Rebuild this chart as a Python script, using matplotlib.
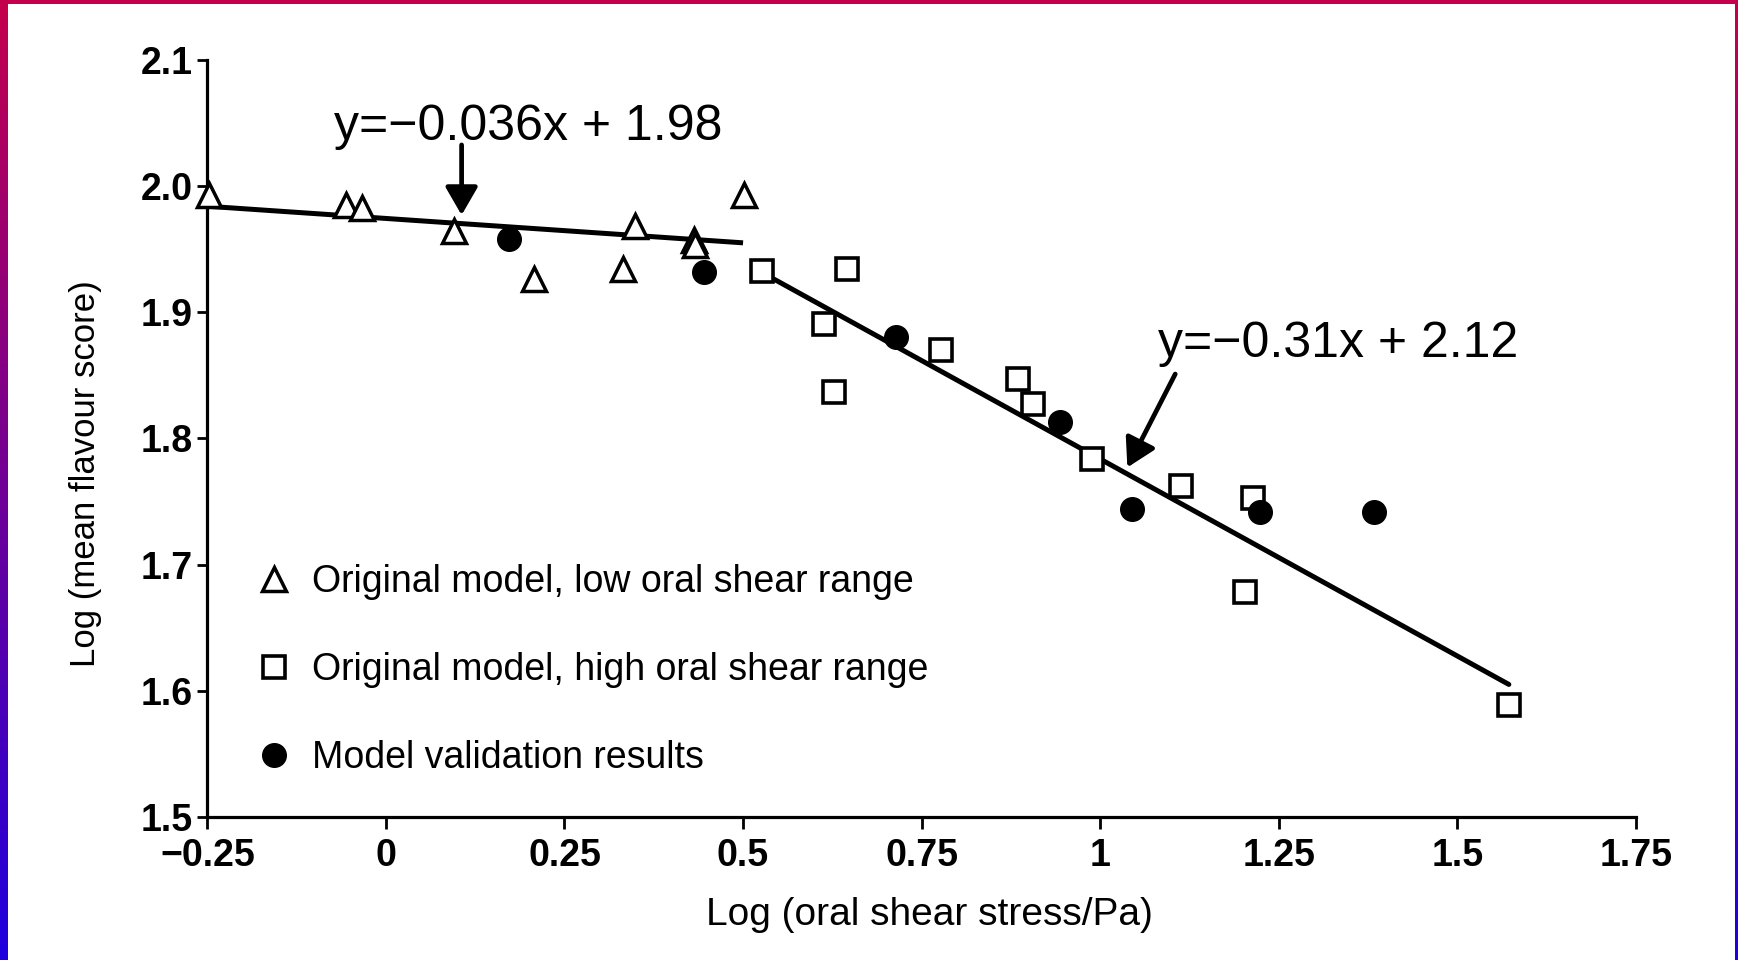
import numpy as np
import matplotlib
matplotlib.use("Agg")
import matplotlib.pyplot as plt

plt.rcParams['font.family'] = ['Liberation Sans', 'DejaVu Sans']

# ---- data ----
tri_x = [-0.247, -0.056, -0.033, 0.096, 0.208, 0.332, 0.349, 0.431, 0.433, 0.501]
tri_y = [1.993, 1.985, 1.983, 1.964, 1.926, 1.934, 1.968, 1.957, 1.953, 1.993]

sq_x = [0.527, 0.614, 0.628, 0.646, 0.777, 0.885, 0.906, 0.988, 1.113, 1.203, 1.214, 1.572]
sq_y = [1.933, 1.891, 1.837, 1.934, 1.870, 1.847, 1.827, 1.784, 1.762, 1.678, 1.753, 1.589]

val_x = [0.172, 0.445, 0.714, 0.944, 1.044, 1.223, 1.383]
val_y = [1.958, 1.932, 1.880, 1.813, 1.744, 1.742, 1.742]

low_fit_x = [-0.25, 0.50]
low_fit_y = [1.984, 1.955]
high_fit_x = [0.528, 1.572]
high_fit_y = [1.931, 1.605]

labels = ["Original model, low oral shear range",
          "Original model, high oral shear range",
          "Model validation results"]
eq_low = "y=\u22120.036x + 1.98"
eq_high = "y=\u22120.31x + 2.12"

xticks = [-0.25, 0, 0.25, 0.5, 0.75, 1, 1.25, 1.5, 1.75]
xticklabels = ["\u22120.25", "0", "0.25", "0.5", "0.75", "1", "1.25", "1.5", "1.75"]
yticks = [1.5, 1.6, 1.7, 1.8, 1.9, 2.0, 2.1]
yticklabels = ["1.5", "1.6", "1.7", "1.8", "1.9", "2.0", "2.1"]

# ---- figure ----
W, H = 1738, 960
fig = plt.figure(figsize=(W / 100, H / 100), dpi=100, facecolor='white')

# gradient frame (left, right, top)
top_col = np.array([196, 0, 76]) / 255.0
bot_col = np.array([30, 0, 222]) / 255.0
t = np.linspace(0, 1, 256)[:, None]
grad = (top_col[None, :] * (1 - t) + bot_col[None, :] * t)[:, None, :]
for (x0, w) in [(0, 7), (W - 3, 3)]:
    sa = fig.add_axes([x0 / W, 0, w / W, 1])
    sa.imshow(grad, aspect='auto', extent=[0, 1, 0, 1], origin='upper')
    sa.set_axis_off()
ta = fig.add_axes([0, 1 - 4 / H, 1, 4 / H])
ta.set_facecolor(top_col)
ta.set_xticks([]); ta.set_yticks([])
for s in ta.spines.values():
    s.set_visible(False)

ax_l, ax_r = 207.3, 1636.0
ax_t, ax_b = 59.9, 816.9
ax = fig.add_axes([ax_l / W, 1 - ax_b / H, (ax_r - ax_l) / W, (ax_b - ax_t) / H])
ax.set_facecolor('none')

ax.set_xlim(-0.25, 1.75)
ax.set_ylim(1.5, 2.1)
for side in ['top', 'right']:
    ax.spines[side].set_visible(False)
for side in ['left', 'bottom']:
    ax.spines[side].set_linewidth(2.3)
    ax.spines[side].set_color('black')

ax.set_xticks(xticks)
ax.set_xticklabels(xticklabels)
ax.set_yticks(yticks)
ax.set_yticklabels(yticklabels)
ax.tick_params(axis='x', direction='out', length=8.5, width=2.0, pad=7,
               labelsize=27)
ax.tick_params(axis='y', direction='out', length=7, width=2.0, pad=3.5,
               labelsize=27)
for lab in ax.get_xticklabels() + ax.get_yticklabels():
    lab.set_fontweight('bold')

# fit lines
ax.plot(low_fit_x, low_fit_y, color='black', lw=3.6, solid_capstyle='butt', zorder=2)
ax.plot(high_fit_x, high_fit_y, color='black', lw=3.6, solid_capstyle='round', zorder=2)

# data points
h1, = ax.plot(tri_x, tri_y, ls='none', marker='^', ms=17, mfc='white', mec='black',
              mew=2.5, label=labels[0], zorder=3, clip_on=False)
h2, = ax.plot(sq_x, sq_y, ls='none', marker='s', ms=16, mfc='white', mec='black',
              mew=2.6, label=labels[1], zorder=3, clip_on=False)
h3, = ax.plot(val_x, val_y, ls='none', marker='o', ms=17, mfc='black', mec='black',
              mew=1.0, label=labels[2], zorder=4, clip_on=False)

# equations + arrows
ax.text(0.199, 2.0365, eq_low, ha='center', va='baseline', fontsize=36, color='black')
ax.annotate('', xy=(0.106, 1.977), xytext=(0.106, 2.0326),
            arrowprops=dict(arrowstyle='-|>,head_length=0.45,head_width=0.26',
                            mutation_scale=38, lw=3.4, color='black',
                            shrinkA=0, shrinkB=0))
ax.text(1.333, 1.8646, eq_high, ha='center', va='baseline', fontsize=36, color='black')
ax.annotate('', xy=(1.038, 1.777), xytext=(1.105, 1.851),
            arrowprops=dict(arrowstyle='-|>,head_length=0.45,head_width=0.26',
                            mutation_scale=38, lw=3.4, color='black',
                            shrinkA=0, shrinkB=0))

# legend
leg = ax.legend(handles=[h1, h2, h3], loc='upper left', bbox_to_anchor=(0.0336, 0.334),
                frameon=False, fontsize=27, numpoints=1, handlelength=1.0,
                handletextpad=0.5, labelspacing=1.39, borderpad=0, borderaxespad=0)

# axis labels
ax.set_xlabel("Log (oral shear stress/Pa)", fontsize=28)
ax.xaxis.label.set_va('center')
ax.xaxis.set_label_coords(0.5055, -0.1296)
ax.set_ylabel("Log (mean flavour score)", fontsize=25)
ax.yaxis.label.set_va('center')
ax.yaxis.set_label_coords(-0.0853, 0.4536)

fig.savefig('out.png', dpi=100, facecolor='white')
